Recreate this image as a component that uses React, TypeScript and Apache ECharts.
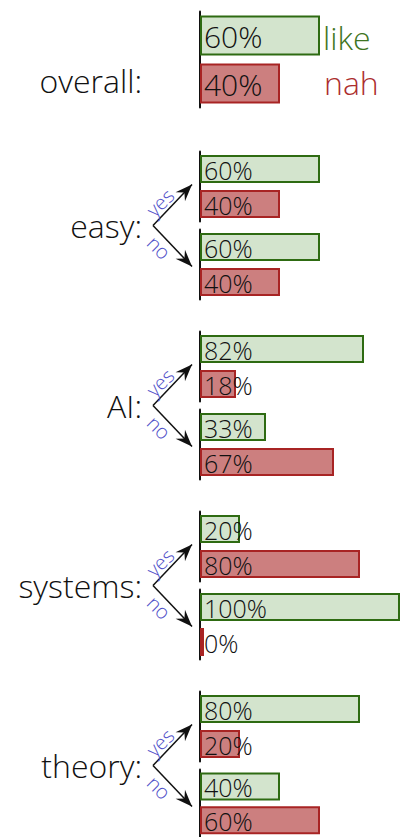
import React, { useEffect, useRef } from "react";
import * as echarts from "echarts";

const overallLabel = "overall:";
const overallValues = [60, 40]; // like, nah
const legendNames = ["like", "nah"];
const groupNames = ["easy:", "AI:", "systems:", "theory:"];
const yesLike = [60, 82, 20, 80];
const yesNah = [40, 18, 80, 20];
const noLike = [60, 33, 100, 40];
const noNah = [40, 67, 0, 60];
const branchNames = ["yes", "no"];

const FONT = "'Open Sans', 'Noto Sans', sans-serif";
const LIKE_FILL = "#d3e4cd";
const LIKE_BORDER = "#2e6b12";
const NAH_FILL = "#cc7f7f";
const NAH_BORDER = "#a82424";

export default function App() {
  const ref = useRef<HTMLDivElement>(null);
  useEffect(() => {
    if (!ref.current) return;
    const chart = echarts.init(ref.current, null, { renderer: "svg" });

    const grids: any[] = [];
    const xAxes: any[] = [];
    const yAxes: any[] = [];
    const series: any[] = [];
    const graphics: any[] = [];

    const addGrid = (top: number, height: number, values: number[], barWidth: number, fontSize: number) => {
      const idx = grids.length;
      grids.push({ left: 200, width: 200, top, height });
      xAxes.push({ type: "value", gridIndex: idx, min: 0, max: 100, show: false });
      yAxes.push({
        type: "category",
        gridIndex: idx,
        inverse: true,
        data: legendNames,
        axisLine: { show: true, lineStyle: { color: "#111", width: 2 } },
        axisTick: { show: false },
        axisLabel: { show: false },
        splitLine: { show: false },
      });
      series.push({
        type: "bar",
        xAxisIndex: idx,
        yAxisIndex: idx,
        barWidth,
        barMinHeight: 4,
        data: values.map((v, i) => ({
          value: v,
          itemStyle: {
            color: i === 0 ? LIKE_FILL : NAH_FILL,
            borderColor: i === 0 ? LIKE_BORDER : NAH_BORDER,
            borderWidth: 2,
          },
        })),
        label: {
          show: true,
          position: "insideLeft",
          distance: 4,
          formatter: "{c}%",
          color: "#111",
          fontSize,
          fontFamily: FONT,
          fontWeight: 300,
          offset: [0, 1],
        },
      });
    };

    // overall
    addGrid(11.5, 96, overallValues, 40, 30);
    graphics.push({
      type: "text",
      x: 142,
      y: 80,
      style: { text: overallLabel, align: "right", verticalAlign: "middle", fontSize: 32, fontFamily: FONT, fontWeight: 300, fill: "#111" },
    });
    graphics.push({
      type: "text",
      x: 323,
      y: 37,
      style: { text: legendNames[0], align: "left", verticalAlign: "middle", fontSize: 32, fontFamily: FONT, fontWeight: 300, fill: "#3f7522" },
    });
    graphics.push({
      type: "text",
      x: 324,
      y: 82,
      style: { text: legendNames[1], align: "left", verticalAlign: "middle", fontSize: 32, fontFamily: FONT, fontWeight: 300, fill: "#ac2e2e" },
    });

    const arrowHead = (tx: number, ty: number, dx: number, dy: number) => {
      const len = Math.hypot(dx, dy);
      const ux = dx / len, uy = dy / len;
      const px = -uy, py = ux;
      return [
        [tx, ty],
        [tx - 17 * ux + 6.5 * px, ty - 17 * uy + 6.5 * py],
        [tx - 11 * ux, ty - 11 * uy],
        [tx - 17 * ux - 6.5 * px, ty - 17 * uy - 6.5 * py],
      ];
    };

    groupNames.forEach((name, g) => {
      const top = 151.5 + g * 180;
      addGrid(top, 70, [yesLike[g], yesNah[g]], 28, 25);
      addGrid(top + 78, 70, [noLike[g], noNah[g]], 28, 25);
      const cy = top + 74;
      graphics.push({
        type: "text",
        x: 142,
        y: cy,
        style: { text: name, align: "right", verticalAlign: "middle", fontSize: 32, fontFamily: FONT, fontWeight: 300, fill: "#111" },
      });
      const vx = 153, tx = 192;
      const up = [tx, cy - 41];
      const dn = [tx, cy + 41];
      [up, dn].forEach((t) => {
        graphics.push({
          type: "line",
          shape: { x1: vx, y1: cy, x2: t[0], y2: t[1] },
          style: { stroke: "#111", lineWidth: 1.5 },
        });
        graphics.push({
          type: "polygon",
          shape: { points: arrowHead(t[0], t[1], t[0] - vx, t[1] - cy) },
          style: { fill: "#111" },
        });
      });
      graphics.push({
        type: "text",
        x: 160,
        y: cy - 23,
        rotation: Math.PI / 4,
        style: { text: branchNames[0], align: "center", verticalAlign: "middle", fontSize: 20, fontFamily: FONT, fontWeight: 300, fill: "#4e4ec8" },
      });
      graphics.push({
        type: "text",
        x: 159,
        y: cy + 22,
        rotation: -Math.PI / 4,
        style: { text: branchNames[1], align: "center", verticalAlign: "middle", fontSize: 20, fontFamily: FONT, fontWeight: 300, fill: "#4e4ec8" },
      });
    });

    chart.setOption({
      animation: false,
      grid: grids,
      xAxis: xAxes,
      yAxis: yAxes,
      series,
      graphic: graphics,
    });
    return () => chart.dispose();
  }, []);
  return <div ref={ref} style={{ position: "fixed", left: 0, top: 0, width: 401, height: 837, background: "#fff" }} />;
}
